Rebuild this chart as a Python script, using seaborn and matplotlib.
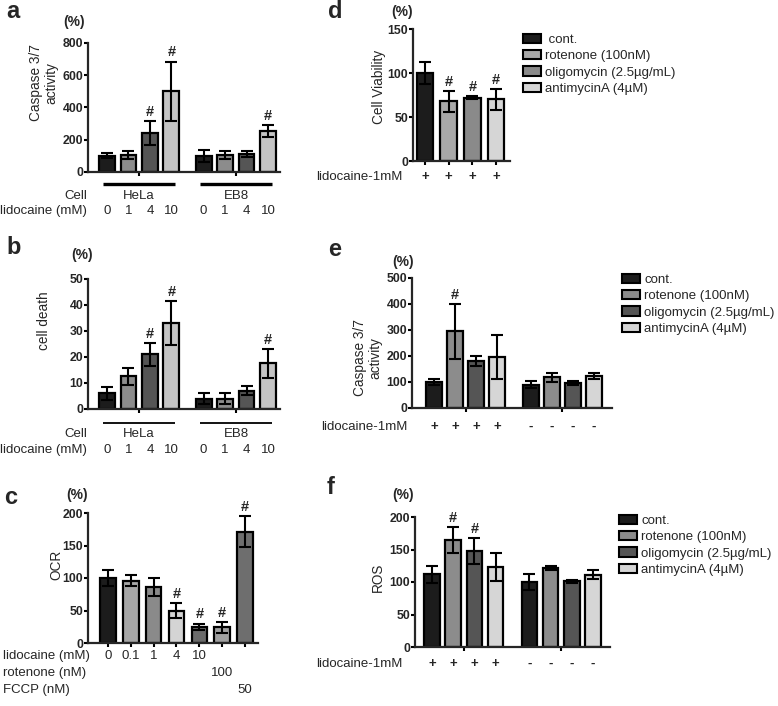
import pandas as pd
import matplotlib
matplotlib.use("Agg")
import matplotlib.pyplot as plt
import matplotlib.transforms as mtransforms
from matplotlib.patches import Patch
import seaborn as sns

# =====================
# DATA
# =====================
# panel a: caspase 3/7 activity
a_pos = [0, 1, 2, 3, 4.5, 5.5, 6.5, 7.5]
a_dose = ["0", "1", "4", "10", "0", "1", "4", "10"]
a_mean = [100, 105, 240, 500, 100, 105, 110, 255]
a_err = [15, 25, 75, 185, 38, 25, 20, 35]
a_sig = [False, False, True, True, False, False, False, True]

# panel b: cell death
b_mean = [6, 12.5, 21, 33, 4, 4, 7, 17.5]
b_err = [2.5, 3.3, 4.5, 8.5, 2, 2, 1.8, 5.5]
b_sig = [False, False, True, True, False, False, False, True]

cells = ["HeLa", "EB8"]
dose_colors = ["#1c1c1c", "#8c8c8c", "#555555", "#c4c4c4"]

# panel c: OCR
c_pos = [0, 1, 2, 3, 4, 5, 6]
c_lido = ["0", "0.1", "1", "4", "10", "", ""]
c_rot = ["", "", "", "", "", "100", ""]
c_fccp = ["", "", "", "", "", "", "50"]
c_mean = [100, 96, 86, 50, 25, 24, 171]
c_err = [12, 9, 14, 12, 5, 8, 24]
c_sig = [False, False, False, True, True, True, True]
c_colors = ["#1c1c1c", "#a6a6a6", "#8a8a8a", "#d4d4d4", "#6a6a6a", "#a0a0a0", "#6e6e6e"]

# panel d: cell viability
d_pos = [0, 1, 2, 3]
d_mean = [100, 68, 72, 70]
d_err = [13, 12, 2, 12]
d_sig = [False, True, True, True]
d_colors = ["#1c1c1c", "#a8a8a8", "#8a8a8a", "#d6d6d6"]

# panel e: caspase 3/7 with inhibitors
e_pos = [0, 1, 2, 3, 4.6, 5.6, 6.6, 7.6]
e_mean = [100, 295, 180, 195, 90, 118, 95, 122]
e_err = [12, 105, 20, 85, 12, 18, 8, 12]
e_sig = [False, True, False, False, False, False, False, False]

# panel f: ROS
f_mean = [112, 165, 147, 123, 100, 122, 101, 111]
f_err = [13, 20, 20, 22, 12, 3, 2, 7]
f_sig = [False, True, True, False, False, False, False, False]

inh_colors = ["#1c1c1c", "#8c8c8c", "#555555", "#d6d6d6"]
lido_signs = ["+", "+", "+", "+", "-", "-", "-", "-"]
legend_labels = ["cont.", "rotenone (100nM)", "oligomycin (2.5µg/mL)", "antimycinA (4µM)"]

# =====================
# STYLE
# =====================
sns.set_theme(style="ticks")
plt.rcParams['font.family'] = ['Liberation Sans', 'DejaVu Sans']
plt.rcParams['axes.linewidth'] = 1.6

W, H = 778, 706
FS = 9.5
fig = plt.figure(figsize=(W / 100, H / 100), dpi=100)


def fy(py):
    return 1 - py / H


def add_ax(l, t, r, b):
    return fig.add_axes([l / W, 1 - b / H, (r - l) / W, (b - t) / H])


def bar_panel(ax, pos, means, errs, sig, colors, width, xlim, ylim, yticks, xticks):
    ids = [f"b{i}" for i in range(len(pos))]
    df = pd.DataFrame({"pos": pos, "mean": means, "id": ids})
    sns.barplot(data=df, x="pos", y="mean", hue="id",
                palette=dict(zip(ids, colors)), native_scale=True, dodge=False,
                width=width, edgecolor="black", linewidth=1.6, legend=False,
                errorbar=None, ax=ax)
    ax.errorbar(pos, means, yerr=errs, fmt="none", ecolor="black",
                elinewidth=1.5, capsize=4.5, capthick=1.5, zorder=5)
    for x, m, e, s in zip(pos, means, errs, sig):
        if s:
            ax.annotate("#", (x, m + e), xytext=(0, 1.5), textcoords="offset points",
                        ha="center", va="bottom", fontsize=10.5, fontweight="bold")
    ax.set_xlim(*xlim)
    ax.set_ylim(*ylim)
    ax.set_yticks(yticks)
    ax.set_yticklabels([str(v) for v in yticks], fontweight="bold", fontsize=8.8)
    ax.set_xticks(xticks)
    ax.set_xticklabels([])
    ax.set_xlabel("")
    ax.set_ylabel("")
    ax.tick_params(axis="both", length=3, width=1.5, pad=0.5, color="black")
    sns.despine(ax=ax)
    ax.set_facecolor("none")
    return mtransforms.blended_transform_factory(ax.transData, fig.transFigure)


def panel_text(letter, ylab, lx, ly, px, py, yx, yy):
    fig.text(lx / W, fy(ly), letter, fontsize=17, fontweight="bold", ha="left", va="center")
    fig.text(px / W, fy(py), "(%)", fontsize=10, fontweight="bold", ha="center", va="center")
    fig.text(yx / W, fy(yy), ylab, fontsize=9.8, rotation=90, ha="center", va="center",
             multialignment="center", linespacing=1.15)


# =====================
# PANEL a / b
# =====================
for (top, bot, means, errs, sig, ylim, yticks, letter, letter_y, pct_x, pct_y, ylab,
     lab_y, line_y, line_w, cell_y, dose_y) in [
        (43, 172, a_mean, a_err, a_sig, (0, 800), [0, 200, 400, 600, 800], "a", 12, 74, 22,
         "Caspase 3/7\nactivity", 83, 184, 2.4, 196, 211),
        (279, 409, b_mean, b_err, b_sig, (0, 50), [0, 10, 20, 30, 40, 50], "b", 248, 82, 255,
         "cell death", 321, 423, 1.3, 434, 450)]:
    ax = add_ax(88, top, 280, bot)
    tr = bar_panel(ax, a_pos, means, errs, sig, dose_colors * 2, 0.74,
                   (-0.885, 8.06), ylim, yticks, [1.5, 6.0])
    panel_text(letter, ylab, 6, letter_y, pct_x, pct_y, 44, lab_y)
    for g, (x0, x1) in enumerate([(-0.18, 3.15), (4.32, 7.7)]):
        ax.plot([x0, x1], [fy(line_y)] * 2, transform=tr, color="black", lw=line_w,
                clip_on=False, solid_capstyle="butt")
        ax.text((x0 + x1) / 2, fy(cell_y), cells[g], transform=tr, ha="center",
                va="center", fontsize=FS)
    for x, d in zip(a_pos, a_dose):
        ax.text(x, fy(dose_y), d, transform=tr, ha="center", va="center", fontsize=FS)
    fig.text(87 / W, fy(cell_y), "Cell", ha="right", va="center", fontsize=FS)
    fig.text(87 / W, fy(dose_y), "lidocaine (mM)", ha="right", va="center", fontsize=FS)

# =====================
# PANEL c
# =====================
ax = add_ax(88, 513, 258, 643)
tr = bar_panel(ax, c_pos, c_mean, c_err, c_sig, c_colors, 0.68, (-0.876, 6.57),
               (0, 200), [0, 50, 100, 150, 200], c_pos)
panel_text("c", "OCR", 4, 497, 77, 495, 56, 565)
for row, py, name in [(c_lido, 656, "lidocaine (mM)"), (c_rot, 673, "rotenone (nM)"),
                      (c_fccp, 690, "FCCP (nM)")]:
    fig.text(3 / W, fy(py), name, ha="left", va="center", fontsize=FS)
    for x, t in zip(c_pos, row):
        ax.text(x, fy(py), t, transform=tr, ha="center", va="center", fontsize=FS)

# =====================
# PANEL d
# =====================
ax = add_ax(413, 29, 510, 161)
tr = bar_panel(ax, d_pos, d_mean, d_err, d_sig, d_colors, 0.7, (-0.51, 3.59),
               (0, 150), [0, 50, 100, 150], d_pos)
panel_text("d", "Cell Viability", 328, 11, 402, 12, 379, 87)
fig.text(403 / W, fy(177), "lidocaine-1mM", ha="right", va="center", fontsize=FS)
for x in d_pos:
    ax.text(x, fy(177), "+", transform=tr, ha="center", va="center", fontsize=FS,
            fontweight="bold")
fig.legend(handles=[Patch(facecolor=c, edgecolor="black", linewidth=1.5, label=l)
                    for c, l in zip(d_colors, [" cont."] + legend_labels[1:])],
           loc="upper left", bbox_to_anchor=(523 / W, fy(34)), frameon=False,
           fontsize=FS, handlelength=1.35, handleheight=0.7, handletextpad=0.35,
           labelspacing=0.3, borderpad=0, borderaxespad=0)

# =====================
# PANEL e / f
# =====================
for (l, top, r, bot, means, errs, sig, ylim, yticks, xlim, letter, lxy, pxy, ylab, yxy,
     sign_y, lab_r, leg_xy) in [
        (412, 278, 612, 408, e_mean, e_err, e_sig, (0, 500), [0, 100, 200, 300, 400, 500],
         (-1.045, 8.46), "e", (328, 249), (403, 262), "Caspase 3/7\nactivity", (368, 358),
         427, 408, (622, 274)),
        (415, 517, 610, 647, f_mean, f_err, f_sig, (0, 200), [0, 50, 100, 150, 200],
         (-0.80, 8.4), "f", (327, 488), (403, 495), "ROS", (378, 577),
         664, 403, (619, 515))]:
    ax = add_ax(l, top, r, bot)
    tr = bar_panel(ax, e_pos, means, errs, sig, inh_colors * 2, 0.74, xlim, ylim, yticks,
                   [1.5, 6.1])
    panel_text(letter, ylab, lxy[0], lxy[1], pxy[0], pxy[1], yxy[0], yxy[1])
    fig.text(lab_r / W, fy(sign_y), "lidocaine-1mM", ha="right", va="center", fontsize=FS)
    for x, s in zip(e_pos, lido_signs):
        ax.text(x, fy(sign_y), s, transform=tr, ha="center", va="center", fontsize=FS,
                fontweight="bold")
    fig.legend(handles=[Patch(facecolor=c, edgecolor="black", linewidth=1.5, label=lb)
                        for c, lb in zip(inh_colors, legend_labels)],
               loc="upper left", bbox_to_anchor=(leg_xy[0] / W, fy(leg_xy[1])),
               frameon=False, fontsize=FS, handlelength=1.35, handleheight=0.7,
               handletextpad=0.35, labelspacing=0.3, borderpad=0, borderaxespad=0)

fig.savefig("out.png", dpi=100, facecolor="white")
plt.close(fig)
